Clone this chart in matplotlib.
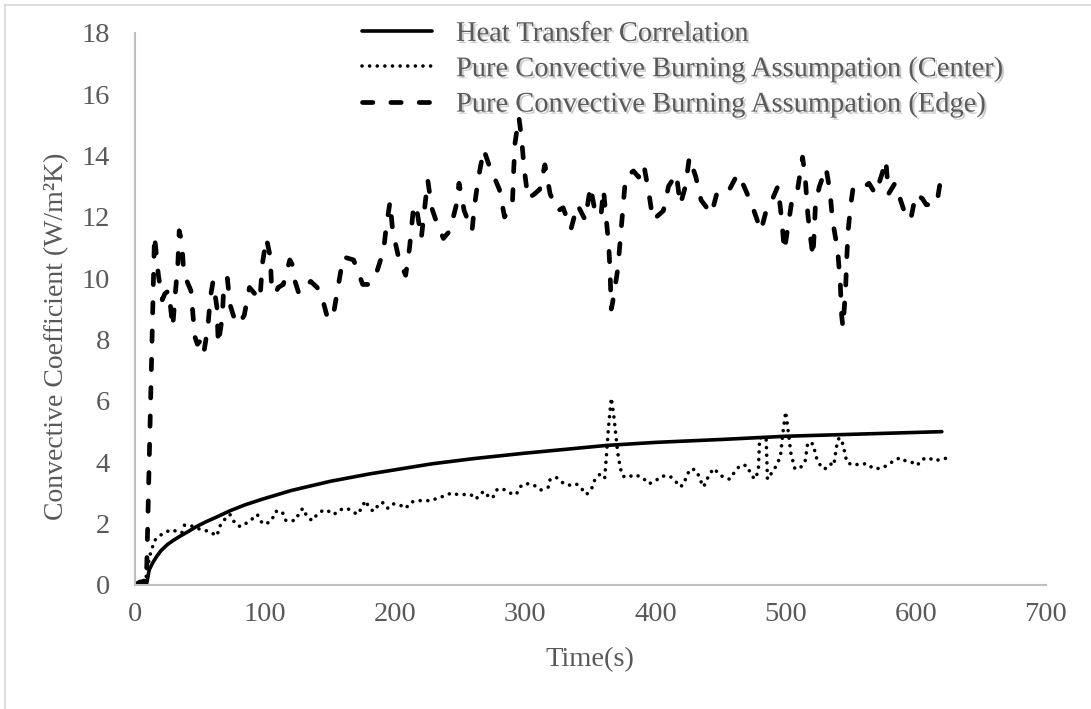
import matplotlib
matplotlib.use("Agg")
import matplotlib.pyplot as plt
import matplotlib.patheffects as pe
from matplotlib.lines import Line2D

plt.rcParams['font.family'] = ['Liberation Serif', 'DejaVu Serif']

GREY_TXT = '#595959'
GREY_AX = '#BFBFBF'

# heat transfer correlation (solid)
t_corr = [0, 4, 7, 9, 11, 14, 17, 20, 25, 30, 35, 40, 47, 55, 63, 73, 85, 98, 120, 150,
          180, 228, 260, 300, 330, 362, 400, 453, 500, 540, 580, 620]
h_corr = [0, 0.1, 0.15, 0.05, 0.5, 0.75, 0.95, 1.12, 1.32, 1.47, 1.6, 1.72, 1.9, 2.07,
          2.22, 2.42, 2.62, 2.8, 3.08, 3.38, 3.62, 3.95, 4.12, 4.3, 4.42, 4.55, 4.65,
          4.75, 4.85, 4.9, 4.95, 5.0]

# pure convective burning assumption, center (dotted)
t_center = [0, 5, 9, 11, 15, 19, 22, 28, 36, 38, 42, 51, 57, 63, 65, 68, 73, 77, 81, 85,
            90, 94, 98, 101, 105, 108, 113, 116, 119, 123, 127, 129, 132, 136, 140, 145,
            149, 153, 157, 163, 167, 171, 174, 177, 179, 183, 187, 190, 194, 198, 204,
            208, 212, 217, 222, 228, 233, 238, 243, 248, 253, 258, 262, 266, 269, 272,
            275, 278, 282, 288, 293, 296, 299, 304, 309, 312, 318, 319, 324, 328, 333,
            339, 343, 347, 351, 353, 357, 360, 361, 364, 366, 368, 371, 373, 375, 378,
            384, 390, 395, 400, 405, 411, 415, 419, 422, 424, 428, 432, 434, 437, 439,
            442, 445, 449, 453, 457, 461, 465, 470, 473, 476, 479, 480, 485, 486, 490,
            493, 496, 498, 500, 502, 504, 507, 511, 515, 517, 521, 524, 528, 532, 535,
            537, 539, 541, 544, 547, 552, 557, 563, 567, 573, 578, 583, 588, 592, 597,
            601, 605, 610, 614, 620, 625]
h_center = [0, 0.05, 0.3, 0.9, 1.45, 1.6, 1.7, 1.8, 1.7, 1.95, 1.95, 1.8, 1.75, 1.6, 1.9,
            2.1, 2.3, 2.0, 1.9, 2.0, 2.15, 2.3, 2.0, 2.0, 2.1, 2.4, 2.4, 2.1, 2.1, 2.1,
            2.4, 2.5, 2.25, 2.1, 2.3, 2.45, 2.4, 2.3, 2.45, 2.5, 2.4, 2.3, 2.5, 2.75, 2.6,
            2.4, 2.6, 2.7, 2.5, 2.65, 2.6, 2.5, 2.7, 2.75, 2.75, 2.75, 2.85, 2.9, 3.0,
            2.95, 2.95, 2.95, 2.8, 3.0, 3.05, 2.85, 2.85, 3.1, 3.15, 3.0, 2.95, 3.2, 3.3,
            3.3, 3.2, 3.1, 3.2, 3.45, 3.5, 3.35, 3.25, 3.3, 3.15, 2.95, 3.15, 3.4, 3.6,
            3.6, 3.5, 5.2, 6.1, 5.5, 4.3, 3.8, 3.55, 3.5, 3.6, 3.5, 3.3, 3.4, 3.55, 3.55,
            3.4, 3.2, 3.3, 3.6, 3.8, 3.7, 3.45, 3.2, 3.4, 3.65, 3.8, 3.6, 3.5, 3.45, 3.7,
            3.9, 3.9, 3.65, 3.45, 3.7, 4.8, 4.8, 3.45, 3.7, 3.9, 4.2, 5.0, 5.65, 5.0, 4.3,
            3.8, 3.8, 4.05, 4.65, 4.6, 4.1, 3.8, 3.8, 3.95, 3.9, 4.5, 4.8, 4.6, 4.0, 3.9,
            3.95, 3.95, 3.8, 3.8, 3.9, 4.05, 4.15, 4.05, 4.0, 3.9, 4.1, 4.15, 4.05, 4.1,
            4.15]

# pure convective burning assumption, edge (dashed)
t_edge = [0, 4, 7, 9, 15, 18, 21, 23, 26, 28, 29, 31, 33, 34, 36, 37, 38, 42, 43, 45,
          46, 48, 51, 53, 56, 58, 60, 63, 64, 67, 68, 71, 73, 77, 80, 84, 88, 92, 96, 98,
          101, 104, 105, 108, 110, 114, 119, 122, 123, 126, 130, 135, 140, 143, 148, 152,
          156, 160, 168, 175, 180, 185, 191, 193, 196, 198, 203, 208, 211, 214, 216, 220,
          225, 228, 232, 237, 242, 247, 249, 253, 259, 261, 264, 268, 272, 274, 276, 280,
          284, 290, 291, 292, 295, 297, 299, 302, 307, 311, 315, 319, 325, 329, 335, 340,
          346, 350, 353, 358, 360, 362, 364, 365, 366, 367, 371, 373, 375, 377, 383, 387,
          391, 395, 398, 406, 410, 416, 419, 423, 426, 431, 435, 443, 447, 455, 463, 468,
          474, 481, 485, 490, 494, 497, 499, 502, 505, 509, 513, 515, 517, 519, 521, 522,
          523, 526, 531, 534, 536, 540, 542, 543, 544, 546, 547, 548, 550, 552, 561, 564,
          569, 574, 577, 579, 584, 591, 596, 600, 605, 608, 616, 619, 622]
h_edge = [0, 0.1, 0, 0.5, 11.4, 10.1, 9.3, 9.5, 9.6, 8.8, 8.4, 9.5, 10.5, 11.55, 11.2,
          10.5, 10.1, 9.7, 9.6, 8.6, 8.1, 7.85, 8.0, 7.6, 8.4, 9.4, 9.9, 9.05, 7.85, 8.7,
          9.5, 10.0, 9.15, 8.6, 8.5, 8.8, 9.7, 9.5, 9.3, 10.5, 11.3, 10.7, 9.7, 9.5, 9.7,
          9.8, 10.6, 10.35, 9.9, 9.5, 9.7, 9.9, 9.7, 9.5, 8.7, 8.7, 9.7, 10.7, 10.6, 9.8,
          9.8, 10.1, 10.9, 11.65, 12.5, 11.55, 10.6, 10.1, 11.0, 12.3, 12.4, 11.3, 13.2,
          12.3, 11.8, 11.3, 11.55, 12.4, 13.1, 12.2, 11.55, 12.4, 13.3, 14.2, 13.7, 13.5,
          13.3, 12.9, 12.0, 12.4, 13.5, 14.4, 15.25, 14.6, 13.6, 12.6, 12.75, 12.9, 13.7,
          12.75, 12.2, 12.3, 11.6, 12.4, 11.9, 13.0, 12.3, 12.0, 12.9, 12.0, 11.1, 10.3,
          9.0, 9.2, 10.3, 11.3, 12.3, 13.3, 13.5, 13.3, 13.7, 12.75, 11.9, 12.2, 13.0,
          13.4, 12.4, 13.0, 13.95, 13.3, 12.55, 12.1, 12.75, 12.75, 13.4, 13.0, 12.4,
          11.55, 12.2, 12.6, 13.0, 11.9, 10.9, 11.75, 12.6, 12.85, 13.95, 13.3, 12.1,
          11.35, 10.7, 11.55, 12.5, 13.0, 13.6, 12.85, 11.9, 10.9, 9.8, 8.8, 8.4, 9.6,
          10.7, 11.55, 12.4, 13.0, 13.0, 13.1, 12.75, 13.4, 13.85, 12.75, 13.1, 12.2,
          11.9, 12.75, 12.6, 12.4, 12.4, 13.2, 13.35]

x_ticks = [0, 100, 200, 300, 400, 500, 600, 700]
y_ticks = [0, 2, 4, 6, 8, 10, 12, 14, 16, 18]
labels = ['Heat Transfer Correlation',
          'Pure Convective Burning Assumpation (Center)',
          'Pure Convective Burning Assumpation (Edge)']

fig = plt.figure(figsize=(10.91, 7.09), dpi=100)
ax = fig.add_axes([0.1237, 0.1749, 0.835, 0.7786])

solid_kw = dict(color='black', lw=2.6, solid_capstyle='round', solid_joinstyle='round')
dot_kw = dict(color='black', lw=2.6, dashes=(0.01, 2.1), dash_capstyle='round')
dash_kw = dict(color='black', lw=3.4, dashes=(2.2, 3.8), dash_capstyle='round')

ax.plot(t_corr, h_corr, **solid_kw)
ax.plot(t_center, h_center, **dot_kw)
ax.plot(t_edge, h_edge, **dash_kw)

ax.set_xlim(0, 700)
ax.set_ylim(0, 18)
ax.set_xticks(x_ticks)
ax.set_yticks(y_ticks)
ax.tick_params(length=0, labelsize=20.5, labelcolor=GREY_TXT)
ax.tick_params(axis='x', pad=12)
ax.tick_params(axis='y', pad=18)
for s in ['top', 'right']:
    ax.spines[s].set_visible(False)
for s in ['left', 'bottom']:
    ax.spines[s].set_color(GREY_AX)
    ax.spines[s].set_linewidth(1.5)

ax.set_xlabel('Time(s)', fontsize=20.5, color=GREY_TXT, va='top')
ax.xaxis.set_label_coords(0.4995, -0.112)
ax.set_ylabel('Convective Coefficient (W/m²K)', fontsize=20, color=GREY_TXT)
ax.yaxis.set_label_coords(-0.072, 0.45)

handles = [Line2D([], [], **solid_kw), Line2D([], [], **dot_kw), Line2D([], [], **dash_kw)]
leg = fig.legend(handles, labels, loc='upper left',
                 bbox_to_anchor=(362 / 1091, 1 - 21 / 709),
                 frameon=False, fontsize=20.5, handlelength=2.45, handletextpad=0.85,
                 labelspacing=0.33, borderpad=0, borderaxespad=0)
for txt in leg.get_texts():
    txt.set_color(GREY_TXT)
    txt.set_path_effects([pe.withSimplePatchShadow(offset=(1.5, -1.5),
                                                   shadow_rgbFace='#999999', alpha=0.5)])

# chart area border (left and top)
fig.add_artist(Line2D([5 / 1091, 5 / 1091], [0, 1 - 5 / 709], color='#D9D9D9', lw=1.2))
fig.add_artist(Line2D([5 / 1091, 1], [1 - 5 / 709, 1 - 5 / 709], color='#D9D9D9', lw=1.2))

fig.savefig('out.png', dpi=100)
